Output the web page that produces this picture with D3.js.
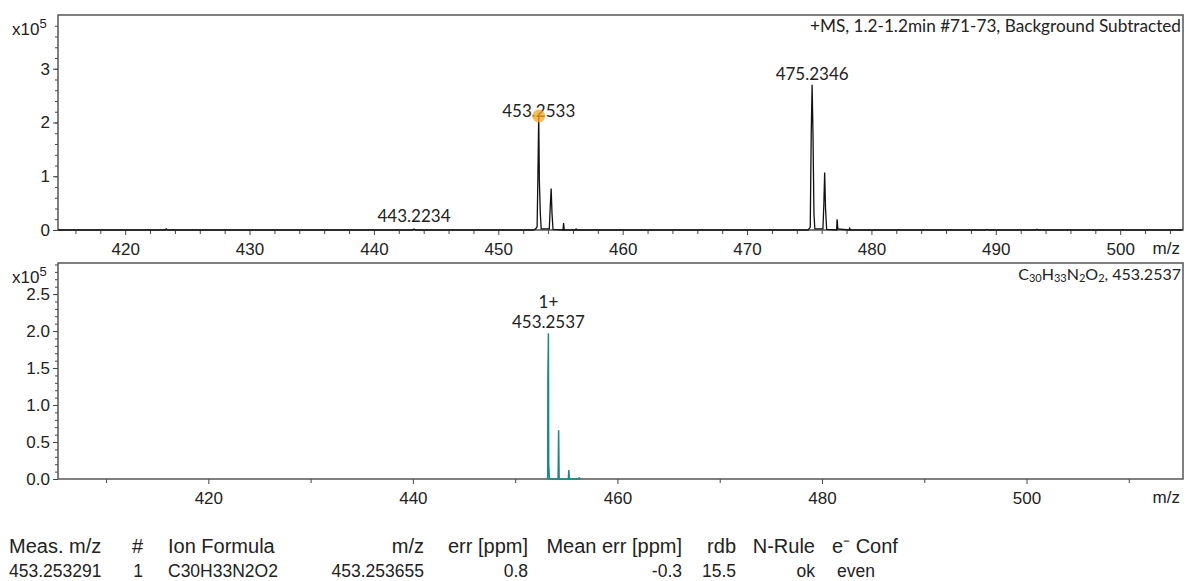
<!DOCTYPE html>
<html>
<head>
<meta charset="utf-8">
<script src="https://cdn.jsdelivr.net/npm/d3@7"></script>
<style>
  body { margin: 0; background: #fff; }
  svg text { fill: #222; }
</style>
</head>
<body>
<div id="chart"></div>
<script>
// measured spectrum, profile points [m/z, intensity x1e5]
const measProfile = [
  [414.6, 0], [423.2, 0], [423.3, 0.02], [423.4, 0],
  [443.1, 0], [443.22, 0.02], [443.35, 0],
  [452.8, 0], [453.0, 0.02], [453.12, 0.06], [453.18, 0.93], [453.25, 2.14], [453.3, 0.93],
  [453.38, 0.3], [453.45, 0.02], [453.6, 0.02], [454.1, 0.02], [454.17, 0.4], [454.25, 0.77],
  [454.32, 0.3], [454.4, 0.01], [455.2, 0], [455.25, 0.13], [455.3, 0],
  [456.2, 0], [456.25, 0.02], [456.3, 0],
  [474.9, 0], [475.08, 0.05], [475.16, 1.8], [475.23, 2.7], [475.3, 1.8], [475.38, 0.3],
  [475.45, 0.02], [476.1, 0.02], [476.17, 0.45], [476.24, 1.07], [476.31, 0.4], [476.4, 0.01],
  [477.2, 0], [477.24, 0.2], [477.3, 0.02], [478.2, 0], [478.25, 0.03], [478.3, 0],
  [489.2, 0], [489.3, 0.01], [489.4, 0], [493.2, 0], [493.3, 0.015], [493.4, 0], [505, 0]
];
// simulated isotope pattern C30H33N2O2
const simProfile = [
  [453.1, 0], [453.18, 0.02], [453.2, 1.33], [453.25, 1.97], [453.28, 0.2], [453.35, 0],
  [454.2, 0], [454.25, 0.66], [454.3, 0], [455.2, 0], [455.25, 0.12], [455.3, 0],
  [456.2, 0], [456.26, 0.015], [456.4, 0]
];
const measLabels = [
  { mz: 453.2533, y: 2.14, text: "453.2533" },
  { mz: 475.2346, y: 2.7, text: "475.2346" },
  { mz: 443.2234, y: 0.02, text: "443.2234" }
];
const measLabelDy = [2, -5, -7];
const simLabels = [{ mz: 453.2537, y: 1.97, lines: ["1+", "453.2537"] }];
const markedPeak = [{ mz: 453.2533, y: 2.14 }];

const topXMajor = [420, 430, 440, 450, 460, 470, 480, 490, 500];
const topXMinor = [416, 418, 422, 424, 426, 428, 432, 434, 436, 438, 442, 444, 446, 448, 452, 454, 456, 458,
  462, 464, 466, 468, 472, 474, 476, 478, 482, 484, 486, 488, 492, 494, 496, 498, 502, 504];
const topYMajor = [0, 1, 2, 3];
const botXMajor = [420, 440, 460, 480, 500];
const botXMinor = [410, 430, 450, 470, 490, 510];
const botYMajor = [0, 0.5, 1.0, 1.5, 2.0, 2.5];

const tableHead = ["Meas. m/z", "#", "Ion Formula", "m/z", "err [ppm]", "Mean err [ppm]", "rdb", "N-Rule", "e\u207B Conf"];
const tableRow = ["453.253291", "1", "C30H33N2O2", "453.253655", "0.8", "-0.3", "15.5", "ok", "even"];

const width = 1186, height = 581;
const svg = d3.select("#chart").append("svg").attr("width", width).attr("height", height);

const left = 58, right = 1183;
const axisFont = "'Liberation Sans', Arial, sans-serif";
const annoFont = "Lato, 'Open Sans', sans-serif";

function panel(opt) {
  const x = d3.scaleLinear().domain(opt.xDomain).range([left, right]);
  const y = d3.scaleLinear().domain(opt.yDomain).range([opt.bottom, opt.top]);
  const g = svg.append("g");

  // x axis minor + major
  g.append("g").attr("transform", `translate(0,${opt.bottom})`)
    .call(d3.axisBottom(x).tickValues(opt.xMinor).tickSize(4).tickFormat(""))
    .call(s => s.select(".domain").remove());
  g.append("g").attr("transform", `translate(0,${opt.bottom})`)
    .call(d3.axisBottom(x).tickValues(opt.xMajor).tickSize(5).tickPadding(8).tickFormat(d3.format("d")))
    .call(s => s.select(".domain").remove())
    .call(s => s.selectAll("text").attr("font-size", 17).attr("font-family", axisFont).attr("fill", "#222"));

  // y axis minor + major
  g.append("g").attr("transform", `translate(${left},0)`)
    .call(d3.axisLeft(y).tickValues(d3.range(0, opt.yDomain[1], opt.yMinorStep)).tickSize(3).tickFormat(""))
    .call(s => s.select(".domain").remove());
  g.append("g").attr("transform", `translate(${left},0)`)
    .call(d3.axisLeft(y).tickValues(opt.yMajor).tickSize(5).tickPadding(3).tickFormat(opt.yFormat))
    .call(s => s.select(".domain").remove())
    .call(s => s.selectAll("text").attr("font-size", 17).attr("font-family", axisFont).attr("fill", "#222"));

  g.selectAll(".tick line").attr("stroke", "#444");

  // frame
  g.append("rect").attr("x", left).attr("y", opt.top)
    .attr("width", right - left).attr("height", opt.bottom - opt.top)
    .attr("fill", "none").attr("stroke", "#555").attr("stroke-width", 1.5);

  // x10^5
  const ex = g.append("text").attr("x", 12).attr("y", opt.expY)
    .attr("font-family", axisFont).attr("font-size", 17);
  ex.append("tspan").text("x10");
  ex.append("tspan").attr("dy", -7).attr("font-size", 13).text("5");

  // m/z
  g.append("text").attr("x", 1180).attr("y", opt.bottom + 24).attr("text-anchor", "end")
    .attr("font-family", axisFont).attr("font-size", 17).text("m/z");

  return { g, x, y };
}

// ---- top panel: measured spectrum
const topP = panel({
  xDomain: [414.6, 505.05], yDomain: [0, 4], top: 15, bottom: 230,
  xMajor: topXMajor, xMinor: topXMinor, yMajor: topYMajor, yMinorStep: 0.2,
  yFormat: d3.format("d"), expY: 35
});

topP.g.append("path").datum(measProfile)
  .attr("d", d3.line().x(d => topP.x(d[0])).y(d => topP.y(d[1])))
  .attr("fill", "none").attr("stroke", "#111").attr("stroke-width", 1.3);

topP.g.selectAll(".lbl").data(measLabels).enter().append("text")
  .attr("x", d => topP.x(d.mz)).attr("y", (d, i) => topP.y(d.y) + measLabelDy[i])
  .attr("text-anchor", "middle").attr("font-family", annoFont).attr("font-size", 17)
  .text(d => d.text);

topP.g.selectAll(".mark").data(markedPeak).enter().append("circle")
  .attr("cx", d => topP.x(d.mz)).attr("cy", d => topP.y(d.y) + 1).attr("r", 6.5)
  .attr("fill", "#f5a623").attr("fill-opacity", 0.75);

topP.g.append("text").attr("x", 1181).attr("y", 32).attr("text-anchor", "end")
  .attr("font-family", annoFont).attr("font-size", 17.2)
  .text("+MS, 1.2-1.2min #71-73, Background Subtracted");

// ---- bottom panel: simulated pattern
const botP = panel({
  xDomain: [405.3, 515.3], yDomain: [0, 2.92], top: 263, bottom: 479,
  xMajor: botXMajor, xMinor: botXMinor, yMajor: botYMajor, yMinorStep: 0.1,
  yFormat: d3.format(".1f"), expY: 283
});

botP.g.append("path").datum(simProfile)
  .attr("d", d3.line().x(d => botP.x(d[0])).y(d => botP.y(d[1])))
  .attr("fill", "none").attr("stroke", "#1b8a86").attr("stroke-width", 1.5);

const sl = botP.g.selectAll(".slbl").data(simLabels).enter().append("text")
  .attr("text-anchor", "middle").attr("font-family", annoFont).attr("font-size", 17);
sl.append("tspan").attr("x", d => botP.x(d.mz)).attr("y", d => botP.y(d.y) - 25).text(d => d.lines[0]);
sl.append("tspan").attr("x", d => botP.x(d.mz)).attr("y", d => botP.y(d.y) - 5).text(d => d.lines[1]);

const ft = botP.g.append("text").attr("x", 1181).attr("y", 280).attr("text-anchor", "end")
  .attr("font-family", annoFont).attr("font-size", 16);
[["C"], ["30", 1], ["H"], ["33", 1], ["N"], ["2", 1], ["O"], ["2", 1], [", 453.2537"]].forEach(p => {
  ft.append("tspan").attr("font-size", p[1] ? 11 : 16)
    .attr("baseline-shift", p[1] ? "-15%" : null).text(p[0]);
});

// ---- results table
const colX = [9, 143, 168, 424, 528, 682, 736, 815, 832];
const colAnchor = ["start", "end", "start", "end", "end", "end", "end", "end", "start"];
const rowX = [9, 143, 168, 424, 528, 682, 736, 815, 837];
const tbl = svg.append("g").attr("font-family", axisFont);
tbl.selectAll(".th").data(tableHead).enter().append("text")
  .attr("x", (d, i) => colX[i]).attr("y", 553).attr("text-anchor", (d, i) => colAnchor[i])
  .attr("font-size", 20).text(d => d);
tbl.selectAll(".td").data(tableRow).enter().append("text")
  .attr("x", (d, i) => rowX[i]).attr("y", 577).attr("text-anchor", (d, i) => colAnchor[i])
  .attr("font-size", 17.5).text(d => d);
</script>
</body>
</html>
